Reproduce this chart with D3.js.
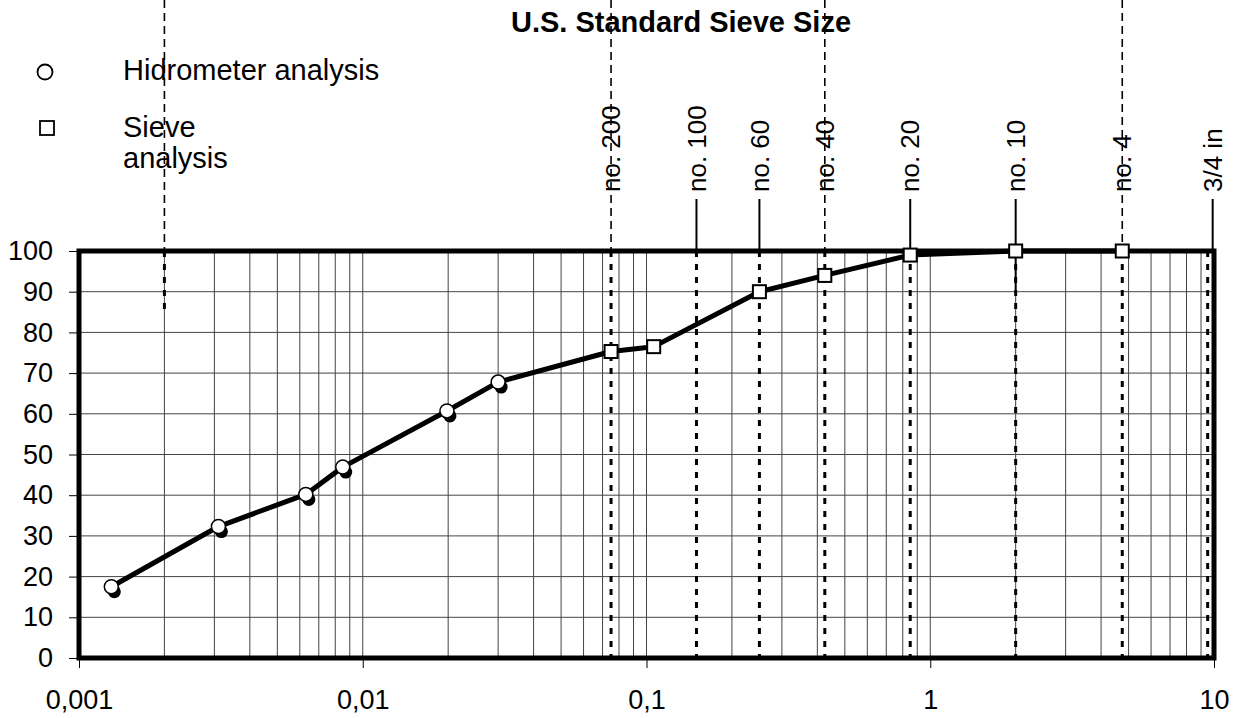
<!DOCTYPE html>
<html>
<head>
<meta charset="utf-8">
<script src="https://cdn.jsdelivr.net/npm/d3@7"></script>
<style>
  body { margin: 0; background: #fff; }
  svg { display: block; font-family: "Liberation Sans", Arial, sans-serif; }
</style>
</head>
<body>
<div id="chart"></div>
<script>
// particle size (mm) and percent finer
const hydroSize = [0.0013, 0.0031, 0.0063, 0.0085, 0.0198, 0.030];
const hydroPct = [17.5, 32.3, 40.2, 46.9, 60.7, 67.8];

const sieveSize = [0.075, 0.106, 0.25, 0.425, 0.85, 2.0, 4.75];
const sievePct = [75.3, 76.5, 90, 94, 99, 100, 100];

// U.S. standard sieves marked above the plot
const sieveNames = ["no. 200", "no. 100", "no. 60", "no. 40", "no. 20", "no. 10", "no. 4", "3/4 in"];
const sieveOpen = [0.075, 0.15, 0.25, 0.425, 0.85, 2.0, 4.75, 9.5];
const dashedToTop = [0.002, 0.075, 0.425, 4.75];

const xTicks = [0.001, 0.01, 0.1, 1, 10];
const xTickLabels = ["0,001", "0,01", "0,1", "1", "10"];
const yTicks = d3.range(0, 101, 10);

const width = 1244, height = 718;
const margin = {top: 251, right: 30, bottom: 60, left: 79};

const svg = d3.select("#chart")
    .append("svg")
    .attr("width", width)
    .attr("height", height);

const xScale = d3.scaleLog()
    .domain([0.001, 10])
    .range([margin.left, width - margin.right]);

const yScale = d3.scaleLinear()
    .domain([0, 100])
    .range([height - margin.bottom, margin.top]);

const x0 = xScale.range()[0], x1 = xScale.range()[1];
const y0 = yScale.range()[0], y1 = yScale.range()[1];

// log grid: 1..9 in every decade
const minor = [];
for (let e = -3; e <= 0; e++) {
    for (let m = 1; m <= 9; m++) minor.push(m * Math.pow(10, e));
}
minor.push(10);

svg.append("g")
    .selectAll("line")
    .data(minor)
    .enter()
    .append("line")
    .attr("x1", d => xScale(d)).attr("x2", d => xScale(d))
    .attr("y1", y1).attr("y2", y0)
    .attr("stroke", "#444")
    .attr("stroke-width", 1);

svg.append("g")
    .selectAll("line")
    .data(yTicks)
    .enter()
    .append("line")
    .attr("x1", x0).attr("x2", x1)
    .attr("y1", d => yScale(d)).attr("y2", d => yScale(d))
    .attr("stroke", "#444")
    .attr("stroke-width", 1);

// axes
const yAxis = svg.append("g")
    .attr("transform", `translate(${x0},0)`)
    .call(d3.axisLeft(yScale).tickValues(yTicks).tickSize(10).tickPadding(16));
yAxis.select(".domain").remove();
yAxis.selectAll("text").attr("font-size", 27).attr("fill", "#000");

const xAxis = svg.append("g")
    .attr("transform", `translate(0,${y0})`)
    .call(d3.axisBottom(xScale).tickValues(xTicks).tickFormat((d, i) => xTickLabels[i]).tickSize(10).tickPadding(22));
xAxis.select(".domain").remove();
xAxis.selectAll("text").attr("font-size", 27).attr("fill", "#000");

// sieve lines inside the plot
svg.append("g")
    .selectAll("line")
    .data(sieveOpen)
    .enter()
    .append("line")
    .attr("x1", d => xScale(d)).attr("x2", d => xScale(d))
    .attr("y1", y1).attr("y2", y0)
    .attr("stroke", "#000")
    .attr("stroke-width", 3)
    .attr("stroke-dasharray", "6 7");

// clay limit, partial
svg.append("line")
    .attr("x1", xScale(0.002)).attr("x2", xScale(0.002))
    .attr("y1", y1).attr("y2", yScale(84))
    .attr("stroke", "#000")
    .attr("stroke-width", 3)
    .attr("stroke-dasharray", "6 7");

// dashed lines running to the top of the page
svg.append("g")
    .selectAll("line")
    .data(dashedToTop)
    .enter()
    .append("line")
    .attr("x1", d => xScale(d)).attr("x2", d => xScale(d))
    .attr("y1", 0).attr("y2", y1)
    .attr("stroke", "#000")
    .attr("stroke-width", 1.6)
    .attr("stroke-dasharray", "8 5");

// solid leaders from the labels down to the plot
svg.append("g")
    .selectAll("line")
    .data(sieveOpen.filter(d => !dashedToTop.includes(d)))
    .enter()
    .append("line")
    .attr("x1", d => xScale(d) + (d === 9.5 ? 5 : 0))
    .attr("x2", d => xScale(d) + (d === 9.5 ? 5 : 0))
    .attr("y1", 199)
    .attr("y2", d => d === 2.0 ? yScale(90) : y1)
    .attr("stroke", "#000")
    .attr("stroke-width", 2);

svg.append("g")
    .selectAll("text")
    .data(sieveNames)
    .enter()
    .append("text")
    .attr("transform", (d, i) => `translate(${xScale(sieveOpen[i]) + (i === 7 ? 5 : 0)},192) rotate(-90)`)
    .attr("dy", "0.35em")
    .attr("font-size", 26)
    .text(d => d);

svg.append("text")
    .attr("x", 681)
    .attr("y", 32)
    .attr("text-anchor", "middle")
    .attr("font-size", 29)
    .attr("font-weight", "bold")
    .text("U.S. Standard Sieve Size");

// frame
svg.append("rect")
    .attr("x", x0).attr("y", y1)
    .attr("width", x1 - x0).attr("height", y0 - y1)
    .attr("fill", "none")
    .attr("stroke", "#000")
    .attr("stroke-width", 5);

// grading curve
const points = hydroSize.map((d, i) => ({size: d, pct: hydroPct[i]}))
    .concat(sieveSize.map((d, i) => ({size: d, pct: sievePct[i]})));

const line = d3.line()
    .x(d => xScale(d.size))
    .y(d => yScale(d.pct));

svg.append("path")
    .datum(points)
    .attr("d", line)
    .attr("fill", "none")
    .attr("stroke", "#000")
    .attr("stroke-width", 5)
    .attr("stroke-linejoin", "round");

const hydro = svg.append("g")
    .selectAll("g")
    .data(hydroSize)
    .enter()
    .append("g")
    .attr("transform", (d, i) => `translate(${xScale(d)},${yScale(hydroPct[i])})`);
hydro.append("circle")
    .attr("cx", 3).attr("cy", 5).attr("r", 6.5)
    .attr("fill", "#000");
hydro.append("circle")
    .attr("r", 7)
    .attr("fill", "#fff")
    .attr("stroke", "#000")
    .attr("stroke-width", 1.5);

svg.append("g")
    .selectAll("rect")
    .data(sieveSize)
    .enter()
    .append("rect")
    .attr("x", d => xScale(d) - 6.5)
    .attr("y", (d, i) => yScale(sievePct[i]) - 6.5)
    .attr("width", 13).attr("height", 13)
    .attr("fill", "#fff")
    .attr("stroke", "#000")
    .attr("stroke-width", 2);

// legend
svg.append("circle")
    .attr("cx", 45).attr("cy", 72).attr("r", 7.5)
    .attr("fill", "#fff").attr("stroke", "#000").attr("stroke-width", 1.8);
svg.append("rect")
    .attr("x", 40).attr("y", 121).attr("width", 14).attr("height", 14)
    .attr("fill", "#fff").attr("stroke", "#000").attr("stroke-width", 1.8);

svg.append("text").attr("x", 123).attr("y", 80).attr("font-size", 29).text("Hidrometer analysis");
svg.append("text").attr("x", 123).attr("y", 137).attr("font-size", 29).text("Sieve");
svg.append("text").attr("x", 123).attr("y", 168).attr("font-size", 29).text("analysis");
</script>
</body>
</html>
